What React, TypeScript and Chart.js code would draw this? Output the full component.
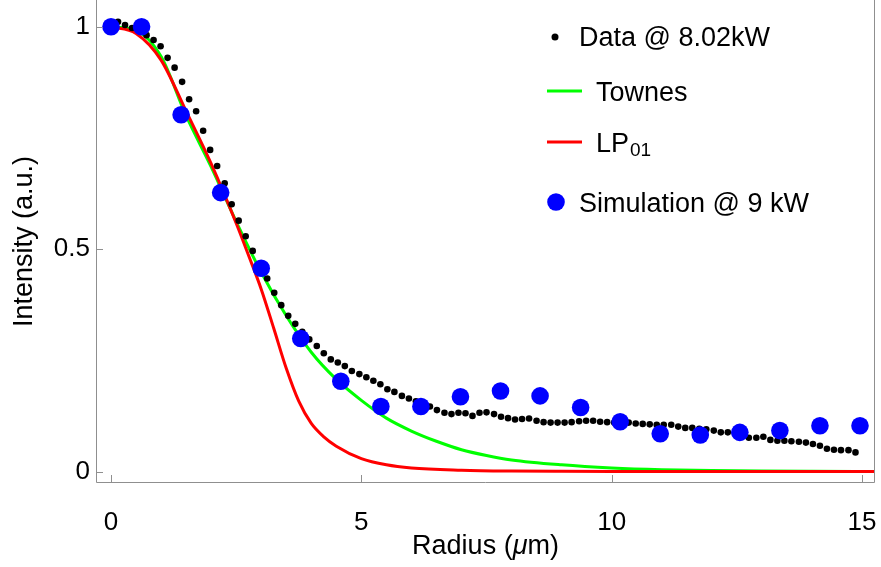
import React, { useEffect, useRef } from "react";
import { Chart, registerables } from "chart.js";

Chart.register(...registerables);

// Measured data @ 8.02 kW (black dots)
const DATA_X = [
  0, 0.14, 0.28, 0.42, 0.57, 0.71, 0.85, 0.99, 1.13, 1.27,
  1.42, 1.56, 1.7, 1.84, 1.98, 2.12, 2.27, 2.41, 2.55, 2.69,
  2.83, 2.97, 3.12, 3.26, 3.4, 3.54, 3.68, 3.82, 3.96, 4.11,
  4.25, 4.39, 4.53, 4.67, 4.81, 4.96, 5.1, 5.24, 5.38, 5.52,
  5.66, 5.81, 5.95, 6.09, 6.23, 6.37, 6.51, 6.66, 6.8, 6.94,
  7.08, 7.22, 7.36, 7.5, 7.65, 7.79, 7.93, 8.07, 8.21, 8.35,
  8.5, 8.64, 8.78, 8.92, 9.06, 9.2, 9.35, 9.49, 9.63, 9.77,
  9.91, 10.05, 10.2, 10.34, 10.48, 10.62, 10.76, 10.9, 11.04, 11.19,
  11.33, 11.47, 11.61, 11.75, 11.89, 12.04, 12.18, 12.32, 12.46, 12.6,
  12.74, 12.89, 13.03, 13.17, 13.31, 13.45, 13.59, 13.74, 13.88, 14.02,
  14.16, 14.3, 14.44, 14.58, 14.73, 14.87,
];
const DATA_Y = [
  1.0, 1.011, 1.004, 0.997, 0.99, 0.981, 0.97, 0.956, 0.93, 0.908,
  0.876, 0.837, 0.81, 0.766, 0.723, 0.687, 0.648, 0.601, 0.564, 0.529,
  0.496, 0.464, 0.434, 0.402, 0.374, 0.35, 0.332, 0.314, 0.297, 0.282,
  0.266, 0.252, 0.245, 0.237, 0.226, 0.219, 0.212, 0.204, 0.196, 0.185,
  0.179, 0.17, 0.164, 0.158, 0.152, 0.146, 0.138, 0.132, 0.129, 0.132,
  0.131, 0.125, 0.132, 0.133, 0.129, 0.123, 0.12, 0.117, 0.118, 0.119,
  0.114, 0.111, 0.11, 0.11, 0.11, 0.111, 0.113, 0.114, 0.114, 0.112,
  0.111, 0.11, 0.11, 0.11, 0.108, 0.107, 0.106, 0.105, 0.105, 0.105,
  0.101, 0.098, 0.098, 0.096, 0.095, 0.092, 0.088, 0.088, 0.086, 0.084,
  0.076, 0.076, 0.078, 0.071, 0.069, 0.069, 0.068, 0.067, 0.065, 0.062,
  0.058, 0.051, 0.049, 0.048, 0.048, 0.043,
];

// Simulation @ 9 kW (blue dots)
const SIM_X = [
  0, 0.61, 1.4, 2.19, 3.0, 3.79, 4.59, 5.39, 6.19, 6.98,
  7.78, 8.57, 9.38, 10.17, 10.97, 11.77, 12.56, 13.36, 14.16, 14.96,
];
const SIM_Y = [
  1.0, 1.0, 0.802, 0.627, 0.457, 0.299, 0.203, 0.146, 0.146, 0.168,
  0.181, 0.17, 0.144, 0.112, 0.085, 0.082, 0.088, 0.092, 0.103, 0.103,
];

// Townes profile (green line)
const TOWNES_X = [0, 0.5, 1, 1.5, 2, 2.5, 3, 3.5, 4, 4.5, 5, 5.5, 6, 6.5, 7, 7.5, 8, 9, 10, 11, 12, 13, 14, 15.3];
const TOWNES_Y = [1.0, 0.992, 0.933, 0.8, 0.685, 0.562, 0.448, 0.35, 0.268, 0.207, 0.16, 0.12, 0.091, 0.068, 0.049, 0.036, 0.026, 0.015, 0.008, 0.004, 0.002, 0.001, 0.0005, 0];

// LP01 mode (red line)
const LP01_X = [0, 0.5, 1, 1.5, 2, 2.5, 2.75, 3, 3.25, 3.5, 3.75, 4, 4.25, 4.5, 5, 5.5, 6, 7, 8, 9, 10, 15.3];
const LP01_Y = [1.0, 0.985, 0.925, 0.81, 0.692, 0.558, 0.485, 0.41, 0.322, 0.232, 0.158, 0.108, 0.078, 0.057, 0.029, 0.015, 0.008, 0.003, 0.001, 0.0003, 0, 0];

const X_TICKS = [0, 5, 10, 15];
const X_TICK_LABELS = ["0", "5", "10", "15"];
const Y_TICKS = [0, 0.5, 1];
const Y_TICK_LABELS = ["0", "0.5", "1"];

const X_TITLE = ["Radius (", "\u03bc", "m)"];
const Y_TITLE = "Intensity (a.u.)";
const LEGEND_DATA = "Data @ 8.02kW";
const LEGEND_TOWNES = "Townes";
const LEGEND_LP = "LP";
const LEGEND_LP_SUB = "01";
const LEGEND_SIM = "Simulation @ 9 kW";

const FONT = "'Liberation Sans', Arial, sans-serif";
const FRAME = "#8f8f8f";

const toPts = (xs: number[], ys: number[]) => xs.map((x, i) => ({ x, y: ys[i] }));

export default function App() {
  const ref = useRef<HTMLCanvasElement>(null);

  useEffect(() => {
    const decor = {
      id: "decor",
      afterDraw(chart: any) {
        const ctx = chart.ctx as CanvasRenderingContext2D;
        const a = chart.chartArea;
        const xs = chart.scales.x;
        const ys = chart.scales.y;
        ctx.save();
        // frame
        ctx.strokeStyle = FRAME;
        ctx.lineWidth = 1;
        ctx.beginPath();
        ctx.moveTo(Math.round(a.left) + 0.5, 0);
        ctx.lineTo(Math.round(a.left) + 0.5, Math.round(a.bottom) + 0.5);
        ctx.lineTo(Math.round(a.right) - 0.5, Math.round(a.bottom) + 0.5);
        ctx.lineTo(Math.round(a.right) - 0.5, 0);
        ctx.stroke();
        // inward ticks
        ctx.beginPath();
        X_TICKS.forEach((v) => {
          const px = Math.round(xs.getPixelForValue(v)) + 0.5;
          ctx.moveTo(px, a.bottom);
          ctx.lineTo(px, a.bottom - 7);
        });
        Y_TICKS.forEach((v) => {
          const py = Math.round(ys.getPixelForValue(v)) + 0.5;
          ctx.moveTo(a.left, py);
          ctx.lineTo(a.left + 7, py);
        });
        ctx.stroke();

        // axis titles
        const F = 27;
        ctx.fillStyle = "#000";
        ctx.font = `${F}px ${FONT}`;
        ctx.textBaseline = "alphabetic";
        const w0 = ctx.measureText(X_TITLE[0]).width;
        ctx.font = `italic ${F}px ${FONT}`;
        const w1 = ctx.measureText(X_TITLE[1]).width;
        ctx.font = `${F}px ${FONT}`;
        const w2 = ctx.measureText(X_TITLE[2]).width;
        const cx = (a.left + a.right) / 2;
        let tx = cx - (w0 + w1 + w2) / 2;
        ctx.textAlign = "left";
        ctx.fillText(X_TITLE[0], tx, 554);
        tx += w0;
        ctx.font = `italic ${F}px ${FONT}`;
        ctx.fillText(X_TITLE[1], tx, 554);
        tx += w1;
        ctx.font = `${F}px ${FONT}`;
        ctx.fillText(X_TITLE[2], tx, 554);

        ctx.save();
        ctx.translate(32, (a.top + a.bottom) / 2);
        ctx.rotate(-Math.PI / 2);
        ctx.textAlign = "center";
        ctx.fillText(Y_TITLE, 0, 0);
        ctx.restore();

        // legend
        ctx.textAlign = "left";
        ctx.font = `${F}px ${FONT}`;
        ctx.fillStyle = "#000";
        ctx.beginPath();
        ctx.arc(555, 37, 3.5, 0, Math.PI * 2);
        ctx.fill();
        ctx.fillText(LEGEND_DATA, 579, 46);

        ctx.lineWidth = 3;
        ctx.strokeStyle = "#00ff00";
        ctx.beginPath();
        ctx.moveTo(547, 91);
        ctx.lineTo(582, 91);
        ctx.stroke();
        ctx.fillText(LEGEND_TOWNES, 596, 101);

        ctx.strokeStyle = "#ff0000";
        ctx.beginPath();
        ctx.moveTo(547, 142);
        ctx.lineTo(582, 142);
        ctx.stroke();
        ctx.fillText(LEGEND_LP, 596, 152);
        const lw = ctx.measureText(LEGEND_LP).width;
        ctx.font = `19px ${FONT}`;
        ctx.fillText(LEGEND_LP_SUB, 596 + lw + 1, 156);

        ctx.font = `${F}px ${FONT}`;
        ctx.fillStyle = "#0000ff";
        ctx.beginPath();
        ctx.arc(556, 202, 8.8, 0, Math.PI * 2);
        ctx.fill();
        ctx.fillStyle = "#000";
        ctx.fillText(LEGEND_SIM, 579, 212);
        ctx.restore();
      },
    };

    const chart = new Chart(ref.current as HTMLCanvasElement, {
      type: "scatter",
      data: {
        datasets: [
          {
            label: LEGEND_SIM,
            data: toPts(SIM_X, SIM_Y),
            pointRadius: 8.8,
            pointBackgroundColor: "#0000ff",
            pointBorderWidth: 0,
            backgroundColor: "#0000ff",
            borderWidth: 0,
            order: 0,
          },
          {
            label: LEGEND_DATA,
            data: toPts(DATA_X, DATA_Y),
            pointRadius: 3.3,
            pointBackgroundColor: "#000000",
            pointBorderWidth: 0,
            backgroundColor: "#000000",
            borderWidth: 0,
            order: 1,
          },
          {
            label: "LP01",
            data: toPts(LP01_X, LP01_Y),
            showLine: true,
            pointRadius: 0,
            borderColor: "#ff0000",
            borderWidth: 3,
            cubicInterpolationMode: "monotone",
            order: 2,
          },
          {
            label: LEGEND_TOWNES,
            data: toPts(TOWNES_X, TOWNES_Y),
            showLine: true,
            pointRadius: 0,
            borderColor: "#00ff00",
            borderWidth: 3,
            cubicInterpolationMode: "monotone",
            order: 3,
          },
        ] as any,
      },
      options: {
        responsive: false,
        animation: false,
        events: [],
        layout: { autoPadding: false, padding: { top: 1, right: 6, left: 0, bottom: 0 } },
        plugins: { legend: { display: false }, tooltip: { enabled: false } },
        scales: {
          x: {
            type: "linear",
            min: -0.3,
            max: 15.26,
            afterFit: (s: any) => {
              s.height = 85;
              s.paddingLeft = 0;
              s.paddingRight = 0;
            },
            afterBuildTicks: (s: any) => {
              s.ticks = X_TICKS.map((v) => ({ value: v }));
            },
            ticks: {
              autoSkip: false,
              maxRotation: 0,
              padding: 25,
              color: "#000",
              font: { family: FONT, size: 26 },
              callback: (v: any) => X_TICK_LABELS[X_TICKS.indexOf(Number(v))],
            },
            grid: { display: false, drawTicks: false },
            border: { display: false },
          },
          y: {
            type: "linear",
            min: -0.0236,
            max: 1.0578,
            afterFit: (s: any) => {
              s.width = 96;
              s.paddingTop = 0;
              s.paddingBottom = 0;
            },
            afterBuildTicks: (s: any) => {
              s.ticks = Y_TICKS.map((v) => ({ value: v }));
            },
            ticks: {
              autoSkip: false,
              padding: 6,
              color: "#000",
              font: { family: FONT, size: 26 },
              callback: (v: any) => Y_TICK_LABELS[Y_TICKS.indexOf(Number(v))],
            },
            grid: { display: false, drawTicks: false },
            border: { display: false },
          },
        },
      } as any,
      plugins: [decor],
    });
    return () => chart.destroy();
  }, []);

  return (
    <div style={{ position: "fixed", left: 0, top: 0, width: 881, height: 567, background: "#fff" }}>
      <canvas ref={ref} width={881} height={567} style={{ display: "block", width: 881, height: 567 }} />
    </div>
  );
}
